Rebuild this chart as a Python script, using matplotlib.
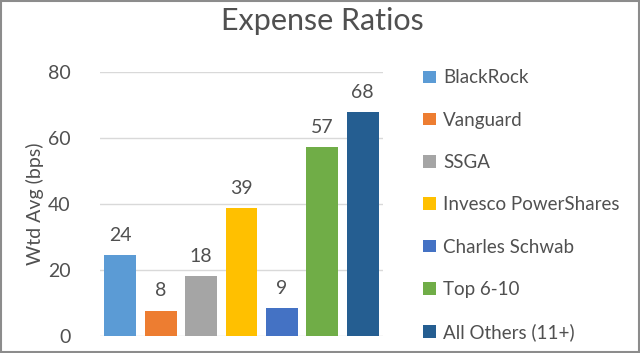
import matplotlib
matplotlib.use("Agg")
import matplotlib.pyplot as plt
from matplotlib.patches import Patch, Rectangle

categories = ["BlackRock", "Vanguard", "SSGA", "Invesco PowerShares",
              "Charles Schwab", "Top 6-10", "All Others (11+)"]
values = [24.4, 7.7, 18.2, 38.8, 8.5, 57.3, 67.9]
labels = ["24", "8", "18", "39", "9", "57", "68"]
colors = ["#5b9bd5", "#ed7d31", "#a5a5a5", "#ffc000", "#4472c4", "#70ad47", "#255e91"]
yticks = [0, 20, 40, 60, 80]

plt.rcParams['font.family'] = ['Lato', 'DejaVu Sans']
txt = "#505050"

fig = plt.figure(figsize=(6.4, 3.53), dpi=100)
ax = fig.add_axes([100/640, (353-336)/353, 283/640, (336-72)/353])

x = list(range(len(categories)))
bars = ax.bar(x, values, width=0.79, color=colors, zorder=3)
ax.bar_label(bars, labels=labels, padding=8, fontsize=14, color=txt)

ax.set_xlim(-0.5, len(categories) - 0.5)
ax.set_ylim(0, 80)
ax.set_yticks(yticks)
ax.set_xticks([])
ax.yaxis.grid(True, color="#d9d9d9", linewidth=1, zorder=0)
for s in ax.spines.values():
    s.set_visible(False)
ax.tick_params(axis='y', length=0, pad=21, labelsize=14, labelcolor=txt)
ax.set_ylabel("Wtd Avg (bps)", fontsize=14, color=txt, labelpad=3)

fig.text(322/640, 1 - 21/353, "Expense Ratios", ha="center", va="center",
         fontsize=22, color=txt)

handles = [Patch(facecolor=c, edgecolor='none') for c in colors]
fig.legend(handles, categories, loc="upper left",
           bbox_to_anchor=(414/640, 1 - 60/353), frameon=False,
           fontsize=13.5, labelcolor=txt, handlelength=0.65, handleheight=0.65,
           handletextpad=0.4, labelspacing=1.35, borderpad=0)

fig.patches.append(Rectangle((0.001, 0.002), 0.997, 0.995, transform=fig.transFigure,
                             fill=False, edgecolor="#8c8c8c", linewidth=1.5))

fig.savefig("out.png", dpi=100)
